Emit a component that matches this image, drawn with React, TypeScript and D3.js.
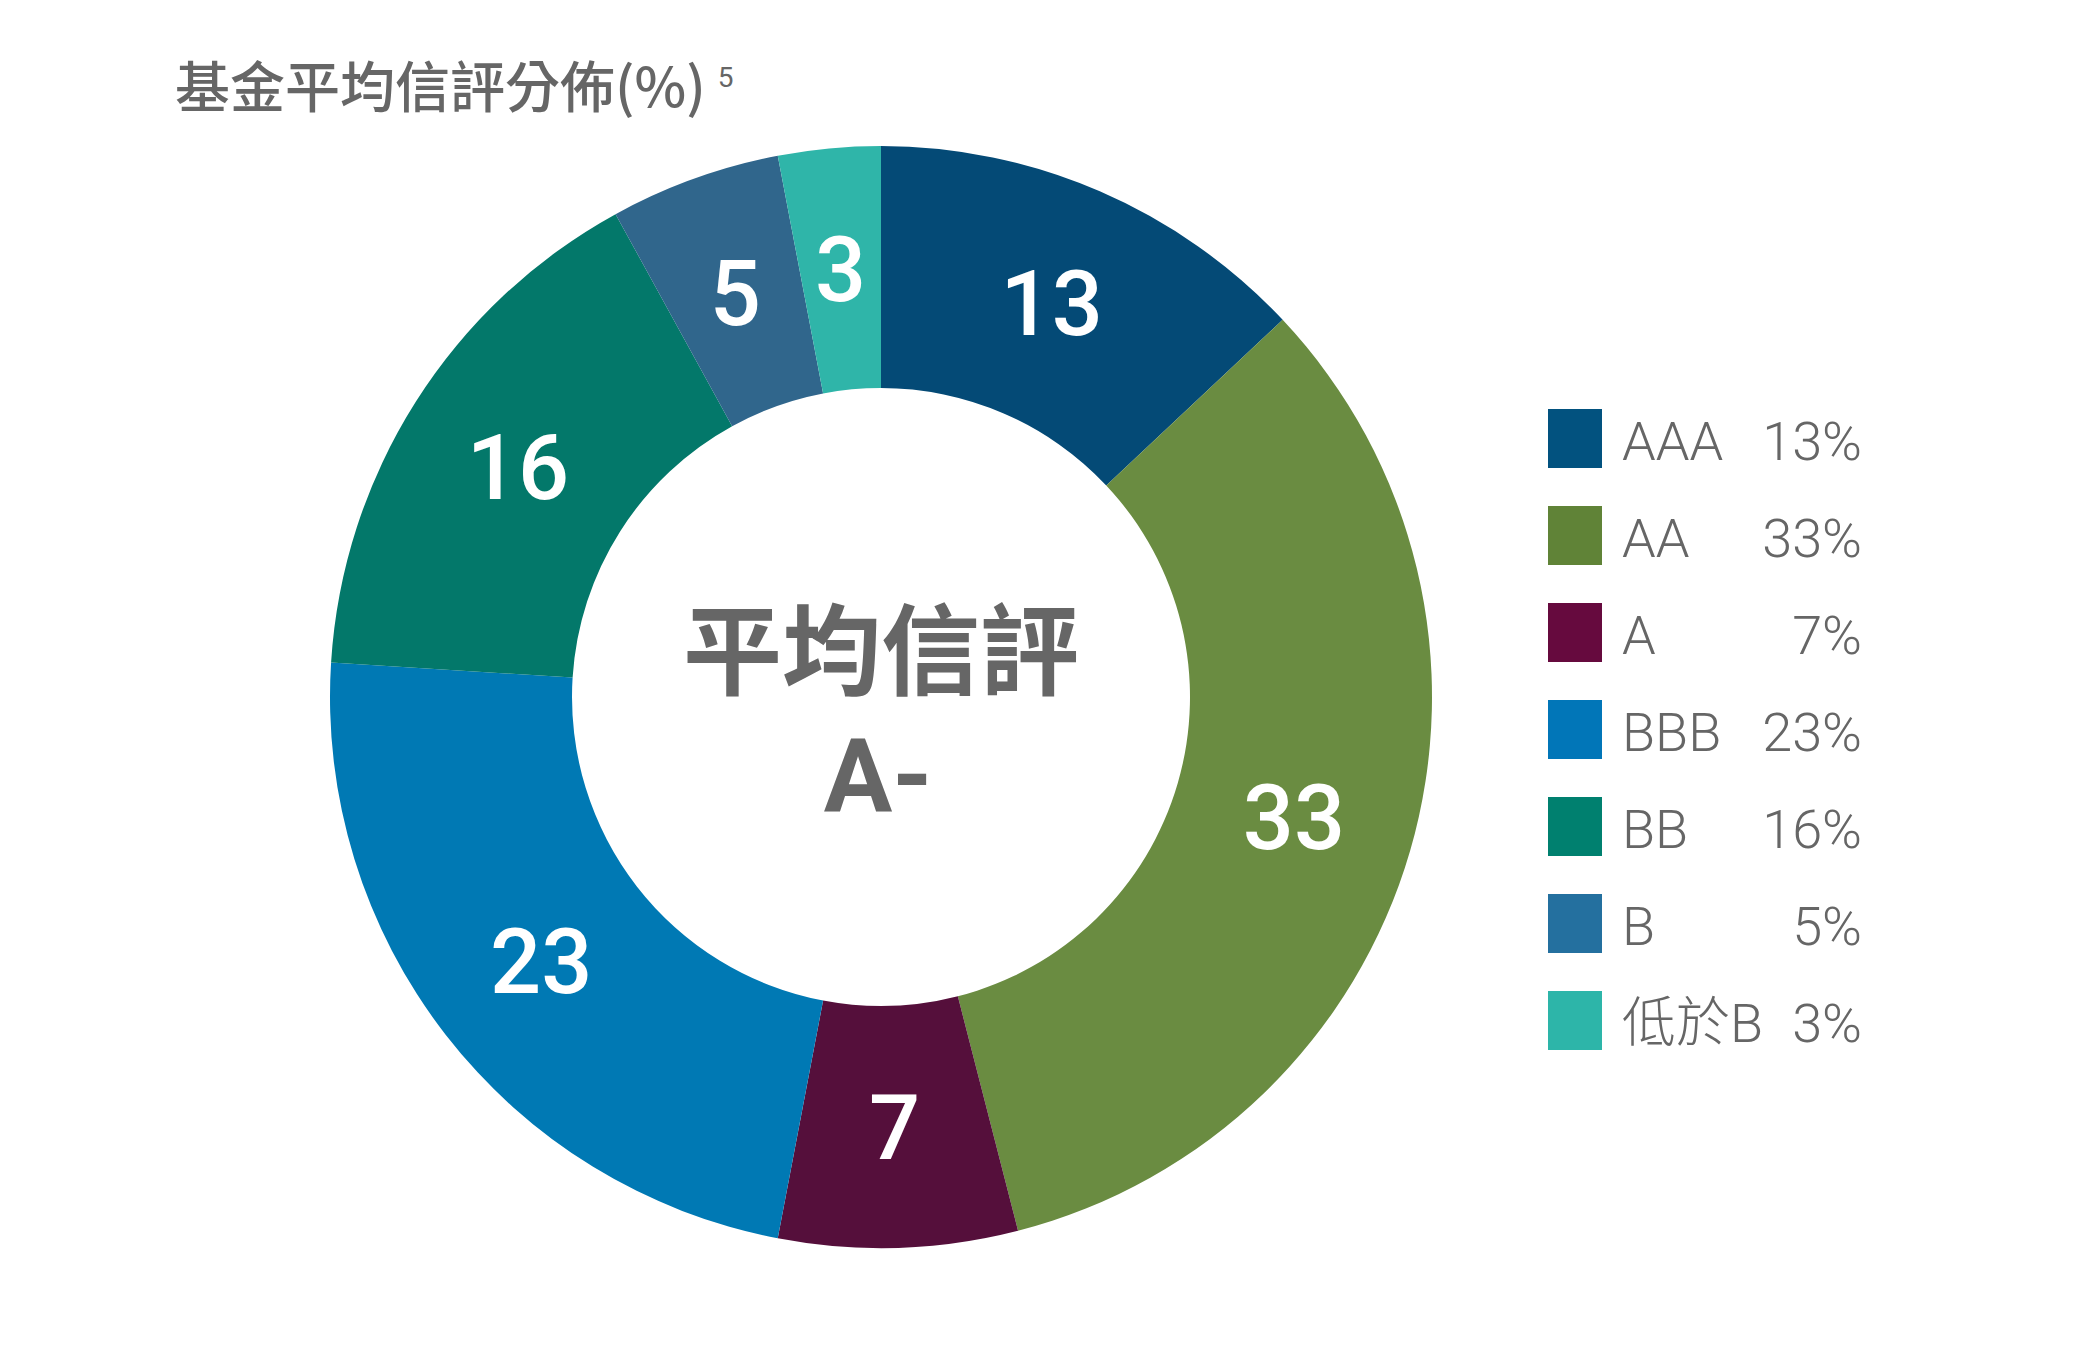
import * as d3 from 'd3';
import React, { useEffect, useRef } from 'react';

// credit rating buckets, clockwise from 12 o'clock
const ratings = ['AAA', 'AA', 'A', 'BBB', 'BB', 'B', '低於B'];
const weights = [13, 33, 7, 23, 16, 5, 3];
const sliceColors = ['#044a76', '#6a8c41', '#550f3b', '#0079b4', '#03786a', '#30668c', '#2fb5a9'];
const legendColors = ['#02527f', '#608337', '#660a3e', '#0176b8', '#00806f', '#24709f', '#2db5a9'];

const titleText = '基金平均信評分佈(%)';
const footnote = '5';
const centerLines = ['平均信評', 'A-'];

const App = () => {
  const ref = useRef<SVGSVGElement>(null);

  useEffect(() => {
    const width = 2100;
    const height = 1351;
    const cx = 881;
    const cy = 697;
    const outerR = 551;
    const innerR = 309;
    const gray = '#666666';

    const svg = d3.select(ref.current);
    svg.selectAll('*').remove();
    svg.attr('width', width).attr('height', height);

    svg.append('rect').attr('width', width).attr('height', height).attr('fill', '#ffffff');

    // title + footnote marker
    const title = svg.append('text')
      .attr('x', 175)
      .attr('y', 107)
      .attr('fill', gray)
      .style('font-family', "'Noto Sans CJK TC', 'Noto Sans', sans-serif")
      .style('font-weight', 500)
      .style('font-size', '55px');
    title.append('tspan').text(titleText);
    title.append('tspan')
      .attr('dx', 12)
      .attr('dy', -20)
      .style('font-size', '28px')
      .style('font-family', 'Roboto, sans-serif')
      .style('font-weight', 400)
      .text(footnote);

    const pie = d3.pie<number>().sort(null).value(d => d);
    const arcs = pie(weights);
    const arc = d3.arc<d3.PieArcDatum<number>>().innerRadius(innerR).outerRadius(outerR);

    const g = svg.append('g').attr('transform', `translate(${cx},${cy})`);

    g.selectAll('path.slice')
      .data(arcs)
      .enter().append('path')
      .attr('class', 'slice')
      .attr('d', arc)
      .attr('fill', (d, i) => sliceColors[i]);

    g.selectAll('text.val')
      .data(arcs)
      .enter().append('text')
      .attr('class', 'val')
      .attr('transform', d => `translate(${arc.centroid(d)})`)
      .attr('text-anchor', 'middle')
      .attr('dy', '0.36em')
      .attr('fill', '#ffffff')
      .style('font-family', "Roboto, 'Noto Sans', sans-serif")
      .style('font-weight', 500)
      .style('font-size', '90px')
      .text(d => d.data);

    // center label
    g.append('text')
      .attr('x', 0)
      .attr('y', -10)
      .attr('text-anchor', 'middle')
      .attr('fill', gray)
      .style('font-family', "'Noto Sans CJK TC', sans-serif")
      .style('font-weight', 700)
      .style('font-size', '99px')
      .text(centerLines[0]);
    g.append('text')
      .attr('x', -3)
      .attr('y', 114)
      .attr('text-anchor', 'middle')
      .attr('fill', gray)
      .style('font-family', "Roboto, sans-serif")
      .style('font-weight', 700)
      .style('font-size', '102px')
      .text(centerLines[1]);

    // legend
    const rowY = d3.scaleBand<string>().domain(ratings).range([409, 409 + 97 * ratings.length]).paddingInner(0);
    const legend = svg.append('g');
    const rows = legend.selectAll('g.row')
      .data(ratings)
      .enter().append('g')
      .attr('class', 'row')
      .attr('transform', d => `translate(0,${rowY(d)})`);

    rows.append('rect')
      .attr('x', 1548)
      .attr('width', 54)
      .attr('height', 59)
      .attr('fill', (d, i) => legendColors[i]);

    rows.append('text')
      .attr('x', 1622)
      .attr('y', 51)
      .attr('fill', gray)
      .style('font-family', "Roboto, 'Noto Sans CJK TC', sans-serif")
      .style('font-weight', 300)
      .style('font-size', '54px')
      .text(d => d);

    rows.append('text')
      .attr('x', 1862)
      .attr('y', 51)
      .attr('text-anchor', 'end')
      .attr('fill', gray)
      .style('font-family', "Roboto, sans-serif")
      .style('font-weight', 300)
      .style('font-size', '54px')
      .text((d, i) => `${weights[i]}%`);
  }, []);

  return (
    <div>
      <svg ref={ref} style={{ position: 'absolute', left: 0, top: 0, display: 'block' }} />
    </div>
  );
};

export default App;
